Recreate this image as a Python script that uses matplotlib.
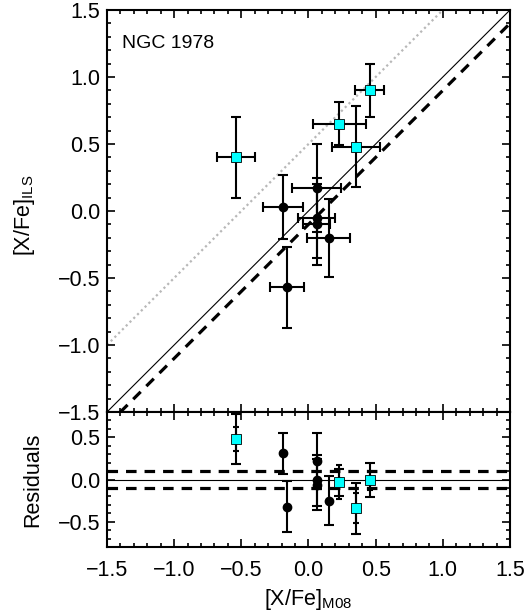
import numpy as np
import matplotlib
matplotlib.use("Agg")
import matplotlib.pyplot as plt
from matplotlib.ticker import MultipleLocator

plt.rcParams['font.family'] = ['Liberation Sans', 'DejaVu Sans']
plt.rcParams['mathtext.default'] = 'regular'

# Clusters abundances: black = one group, cyan = the other
x_blk = [0.06, -0.19, 0.06, 0.06, 0.15, -0.16]
xerr_blk = [0.18, 0.15, 0.14, 0.10, 0.16, 0.13]
y_blk = [0.17, 0.03, -0.05, -0.10, -0.20, -0.57]
yerr_blk = [0.33, 0.24, 0.30, 0.30, 0.29, 0.30]
res_blk = [0.22, 0.31, -0.01, -0.06, -0.25, -0.32]

x_cyn = [-0.54, 0.455, 0.23, 0.355]
xerr_cyn = [0.14, 0.11, 0.20, 0.18]
y_cyn = [0.40, 0.90, 0.65, 0.48]
yerr_cyn = [0.30, 0.20, 0.16, 0.30]
res_cyn = [0.48, -0.01, -0.03, -0.34]

line_x = [-1.5, 1.5]
offset_dot = 0.5
offset_dash = -0.1
res_band = 0.1

fs = 15.5
dash = (0, (3.3, 2.5))

fig = plt.figure(figsize=(5.32, 6.11), dpi=100)
ax = fig.add_axes([0.2011, 0.3257, 0.7575, 0.6579])
axr = fig.add_axes([0.2011, 0.1047, 0.7575, 0.2210])

# one-to-one and offset lines
lx = np.array(line_x)
ax.plot(lx, lx + offset_dot, color='#b8b8b8', lw=1.6, ls=(0, (1, 1.4)), zorder=1)
ax.plot(lx, lx, color='k', lw=0.8, zorder=1)
ax.plot(lx, lx + offset_dash, color='k', lw=2.3, ls=dash, zorder=1)

ax.errorbar(x_blk, y_blk, xerr=xerr_blk, yerr=yerr_blk, fmt='o', color='k',
            ms=6, elinewidth=1.5, capsize=3.7, capthick=1.5, zorder=3)
ax.errorbar(x_cyn, y_cyn, xerr=xerr_cyn, yerr=yerr_cyn, fmt='none', ecolor='k',
            elinewidth=1.5, capsize=3.7, capthick=1.5, zorder=3)
ax.plot(x_cyn, y_cyn, 's', mfc='cyan', mec='k', mew=0.6, ms=7, zorder=4)

ax.text(-1.39, 1.25, 'NGC 1978', fontsize=14, va='center', ha='left')
ax.set_xlim(-1.5, 1.5)
ax.set_ylim(-1.5, 1.5)
ax.set_ylabel('[X/Fe]$_{ILS}$', fontsize=fs)
ax.yaxis.set_label_coords(-0.174, 0.49)
ax.tick_params(labelbottom=False)

# residual panel
axr.axhline(0, color='k', lw=0.8, zorder=1)
axr.axhline(res_band, color='k', lw=2.3, ls=dash, zorder=1)
axr.axhline(-res_band, color='k', lw=2.3, ls=dash, zorder=1)
axr.errorbar(x_blk, res_blk, yerr=yerr_blk, fmt='o', color='k', ms=6,
             elinewidth=1.5, capsize=3.7, capthick=1.5, zorder=3)
axr.errorbar(x_cyn, res_cyn, yerr=yerr_cyn, fmt='none', ecolor='k',
             elinewidth=1.5, capsize=3.7, capthick=1.5, zorder=3)
axr.errorbar(x_cyn, res_cyn, yerr=xerr_cyn, fmt='none', ecolor='k',
             elinewidth=1.5, capsize=2.2, capthick=1.5, zorder=3)
axr.plot(x_cyn, res_cyn, 's', mfc='cyan', mec='k', mew=0.6, ms=7, zorder=4)
axr.set_xlim(-1.5, 1.5)
axr.set_ylim(-0.8, 0.8)
axr.set_xlabel('[X/Fe]$_{M08}$', fontsize=fs, labelpad=5)
axr.set_ylabel('Residuals', fontsize=fs)
axr.yaxis.set_label_coords(-0.159, 0.5)

for a in (ax, axr):
    a.xaxis.set_major_locator(MultipleLocator(0.5))
    a.xaxis.set_minor_locator(MultipleLocator(0.1))
    a.yaxis.set_major_locator(MultipleLocator(0.5))
    a.yaxis.set_minor_locator(MultipleLocator(0.1))
    a.tick_params(which='both', direction='in', top=True, right=True,
                  labelsize=fs, width=1.2)
    a.tick_params(which='major', length=6)
    a.tick_params(which='minor', length=3)
    a.tick_params(axis='x', which='major', pad=9)
    a.tick_params(axis='y', which='major', pad=5)
    for s in a.spines.values():
        s.set_linewidth(1.5)

fig.savefig('out.png', dpi=100)
